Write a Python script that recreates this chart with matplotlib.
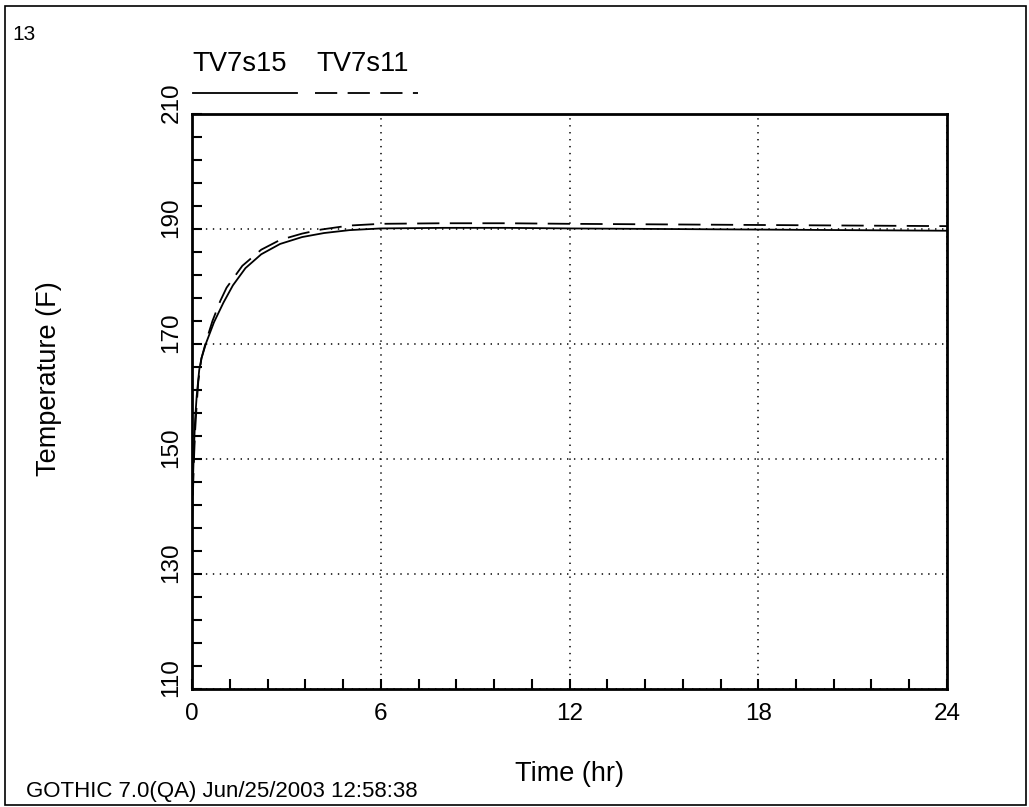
import numpy as np
import matplotlib
matplotlib.use('Agg')
from matplotlib import pyplot as plt
from matplotlib.lines import Line2D
from matplotlib.patches import Rectangle
import matplotlib.transforms as mtransforms

plt.rcParams['font.family'] = ['Liberation Sans', 'DejaVu Sans']
plt.rcParams['lines.scale_dashes'] = False

# time (hr) and temperature (F)
t_s15 = [0, 0.02, 0.04, 0.07, 0.1, 0.15, 0.23, 0.3, 0.45, 0.7, 1.0, 1.3, 1.7, 2.2, 2.8, 3.5, 4.2, 5.0, 6.0,
         8, 10, 12, 15, 18, 21, 24]
T_s15 = [140, 144, 148, 153, 157, 161, 165.5, 167.5, 170.2, 173.8, 177.2, 180.2, 183.2, 185.6, 187.4, 188.6, 189.3,
         189.8, 190.1, 190.2, 190.2, 190.1, 190.0, 189.9, 189.8, 189.7]
t_s11 = [0, 0.02, 0.04, 0.07, 0.1, 0.15, 0.2, 0.3, 0.45, 0.65, 0.9, 1.1, 1.6, 2.2, 2.8, 3.5, 4.1, 5.0, 6.0,
         8, 10, 12, 15, 18, 21, 24]
T_s11 = [138, 142, 146, 151, 155, 159.5, 163.5, 167.5, 170.5, 174, 177.5, 179.8, 183.6, 186.4, 188.1, 189.2, 189.9,
         190.6, 190.9, 191.0, 191.0, 190.9, 190.8, 190.7, 190.6, 190.5]

names = ['TV7s15', 'TV7s11']
xticks = [0, 6, 12, 18, 24]
yticks = [110, 130, 150, 170, 190, 210]

W, H = 1029, 807
fig = plt.figure(figsize=(W/100, H/100), dpi=100)
ax = fig.add_axes([192/W, 1-689/H, 755/W, 575/H])

ax.plot(t_s15, T_s15, color='k', lw=1.3)
ax.plot(t_s11, T_s11, color='k', lw=1.3, dashes=(16, 7.5))

ax.set_xlim(0, 24)
ax.set_ylim(110, 210)
ax.set_xticks(xticks)
ax.set_yticks(yticks)
ax.set_xticks(np.arange(0, 24.01, 1.2), minor=True)
ax.set_yticks(np.arange(110, 210.01, 4), minor=True)
ax.grid(True, which='major', color='k', linestyle=(0, (1, 4)), lw=1.1)

for s in ax.spines.values():
    s.set_linewidth(2)
ax.tick_params(which='both', direction='in', length=7, width=1.5, top=False, right=False)
ax.tick_params(axis='x', labelsize=17.5, pad=10)
ax.tick_params(axis='y', labelsize=17.5, pad=7, labelrotation=90)
for lab in ax.get_yticklabels():
    lab.set_va('center')
    lab.set_transform(lab.get_transform() + mtransforms.ScaledTranslation(0, 11/100, fig.dpi_scale_trans))

ax.set_xlabel('Time (hr)', fontsize=19.5)
ax.xaxis.set_label_coords(0.5, -0.125)
ax.set_ylabel('Temperature (F)', fontsize=19.5)
ax.yaxis.set_label_coords(-0.172, 0.54)

# legend above the plot: name over line sample
fig.text(192/W, 1-64/H, names[0], fontsize=19.7, va='center', ha='left')
fig.text(316/W, 1-64/H, names[1], fontsize=19.7, va='center', ha='left')
fig.lines.append(Line2D([193/W, 297/W], [1-93/H, 1-93/H], color='k', lw=1.3, transform=fig.transFigure))
fig.lines.append(Line2D([315/W, 418/W], [1-93/H, 1-93/H], color='k', lw=1.3, dashes=(16, 7.5),
                        transform=fig.transFigure))

fig.text(12/W, 1-34/H, '13', fontsize=15, va='center', ha='left')
fig.text(26/W, 1-791/H, 'GOTHIC 7.0(QA) Jun/25/2003 12:58:38', fontsize=16, va='center', ha='left')

fig.patches.append(Rectangle((5/W, 2/H), 1021/W, 799/H, fill=False, ec='k', lw=1.2,
                             transform=fig.transFigure))

fig.savefig('out.png', dpi=100)
